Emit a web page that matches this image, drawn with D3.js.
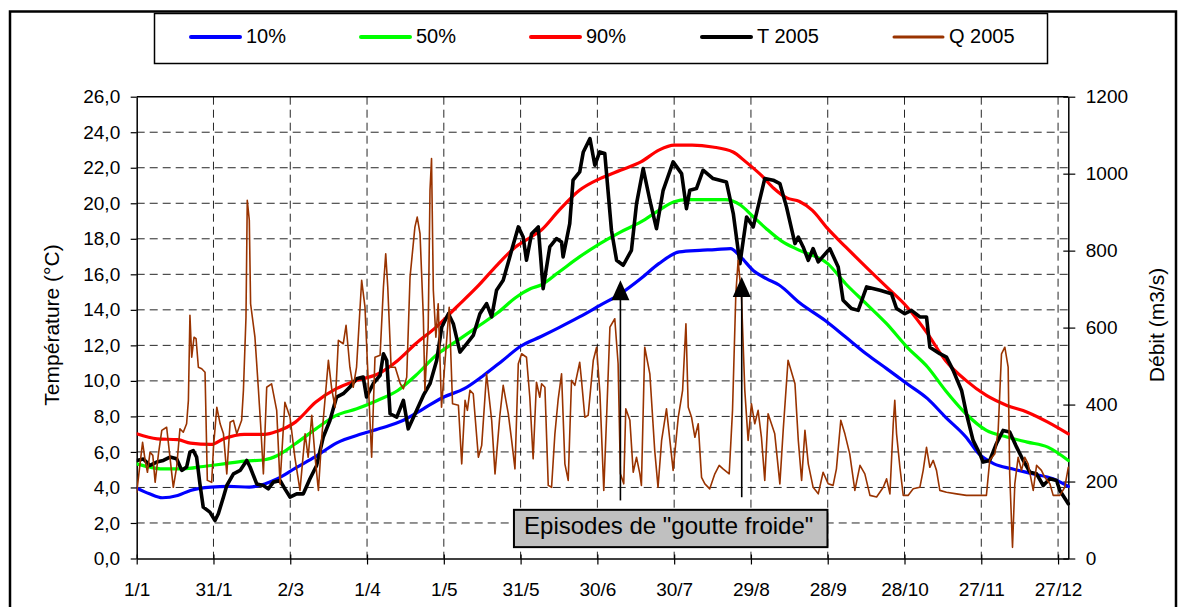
<!DOCTYPE html>
<html>
<head>
<meta charset="utf-8">
<script src="https://cdn.jsdelivr.net/npm/d3@7"></script>
<style>
  html, body { margin: 0; padding: 0; background: #fff; }
  svg { display: block; }
</style>
</head>
<body>
<svg id="chart" width="1181" height="607"></svg>
<script>
// ---------- DATA ----------
const xTickDays = [0, 30, 60, 90, 120, 150, 180, 210, 240, 270, 300, 330, 360];
const xTickLabels = ["1/1", "31/1", "2/3", "1/4", "1/5", "31/5", "30/6", "30/7", "29/8", "28/9", "28/10", "27/11", "27/12"];
const tempTicks = [0, 2, 4, 6, 8, 10, 12, 14, 16, 18, 20, 22, 24, 26];
const flowTicks = [0, 200, 400, 600, 800, 1000, 1200];

const p10Days = [0,5,10,16,21,29,36,44,50,55,62,70,78,88,96,104,112,120,128,135,143,150,158,165,173,181,189,197,204,212,220,226,232,236,241,246,251,259,269,277,285,293,301,309,316,324,329,335,342,350,358,364];
const p10Vals = [3.96,3.64,3.42,3.55,3.83,4.02,4.06,4.02,4.2,4.49,5.09,5.75,6.5,7.02,7.36,7.77,8.43,9.09,9.56,10.25,11.15,11.95,12.5,13.0,13.6,14.25,14.9,15.76,16.6,17.26,17.35,17.39,17.45,16.98,16.2,15.76,15.4,14.4,13.4,12.47,11.53,10.69,9.84,9.0,7.96,6.84,5.9,5.33,5.05,4.77,4.49,4.06];

const p50Days = [0,5,10,18,26,34,42,50,55,62,70,78,86,94,102,109,117,125,133,141,148,154,158,165,173,181,189,197,204,210,215,223,230,236,241,246,252,259,270,277,285,293,301,309,316,324,332,340,348,356,364];
const p50Vals = [5.33,5.15,5.05,5.05,5.18,5.33,5.48,5.56,5.8,6.46,7.3,8.06,8.43,8.9,9.46,10.3,11.44,12.24,13.03,13.83,14.68,15.2,15.4,16.13,16.98,17.73,18.38,18.95,19.6,20.08,20.2,20.2,20.2,19.89,19.23,18.57,17.87,17.35,16.6,15.47,14.35,13.22,11.9,10.78,9.46,8.15,7.21,6.84,6.55,6.27,5.52];

const p90Days = [0,8,16,21,29,34,42,50,55,62,70,78,86,94,102,109,117,125,133,141,148,154,158,165,173,181,189,197,204,210,217,225,233,238,244,249,254,259,264,270,277,285,293,301,309,316,324,332,340,348,356,364];
const p90Vals = [7.02,6.74,6.69,6.5,6.42,6.74,6.99,6.99,7.17,7.68,8.81,9.56,10.03,10.37,11.15,12.09,13.03,14.16,15.29,16.55,17.54,18.1,18.48,19.6,20.73,21.39,21.86,22.33,22.99,23.27,23.27,23.17,22.89,22.33,21.58,20.83,20.3,20.1,19.6,18.57,17.54,16.41,15.29,14.16,12.66,11.15,10.03,9.18,8.62,8.24,7.68,7.02];

const t2005Days = [0,2.6,5.2,7.8,10.4,13,15.6,17.6,19.5,20.8,22.1,23.4,24.7,26,28.6,30.6,31.9,33.9,35.2,37.8,40.4,43,44.3,46.9,49.5,51.4,53.4,56,57.9,59.9,62.5,65.1,67.7,70.3,72.9,75.5,78.1,80.7,83.3,85.9,88.5,89.8,92.4,95.1,96.4,97.7,99,101.6,104.2,106.1,109.4,112,114.6,117.2,119.2,121.8,123.7,126.3,128.9,131.5,134.1,136.7,138.7,140.6,143.2,146.5,149.1,151,152.3,154.3,156.9,158.8,161.4,164,166,166.6,169.2,170.5,173.1,174.5,177.1,179,180.9,182.9,185.5,187.5,190.1,193.3,195.3,197.9,200.5,203.1,205.7,209.6,212.9,214.8,216.1,218.7,221.3,225.2,230.4,233.1,235.7,238.3,240.9,245.4,248.7,251.3,253.9,257.2,258.5,260.4,262.4,264.3,266.3,270.8,274.1,276,279.3,281.9,285.2,290.4,294.9,296.9,300.1,302.7,306,308.6,309.9,313.8,316.4,319,322.3,324.2,326.8,329.4,330.7,333.3,335.9,338.5,341.1,343.8,346.4,349,351.6,354.2,356.8,359.4,360.7,364];
const t2005Vals = [5.52,5.6,5.24,5.43,5.52,5.71,5.62,4.96,5.15,5.99,6.08,5.71,4.2,2.89,2.61,2.14,2.52,3.46,4.11,4.77,4.96,5.52,5.15,4.2,4.11,3.92,4.3,4.39,3.92,3.46,3.64,3.64,4.49,5.24,6.84,7.77,9.09,9.28,9.65,10.12,10.22,9.09,9.84,10.31,11.53,11.15,8.15,7.96,8.9,7.3,8.34,9.18,9.84,11.15,13.03,13.78,13.22,11.62,12.09,12.56,13.78,14.35,13.6,15.1,15.66,17.35,18.67,18.1,16.79,18.29,18.67,15.19,17.54,18.01,17.82,16.98,18.85,21.3,21.77,22.89,23.64,22.14,22.89,22.8,18.48,16.79,16.51,17.35,19.98,21.95,20.17,18.57,20.73,22.33,21.67,19.7,20.73,20.83,21.86,21.39,21.2,19.42,16.6,19.23,18.67,21.39,21.3,21.11,19.79,17.73,18.1,17.54,16.79,17.45,16.7,17.45,16.41,14.54,14.07,13.97,15.29,15.1,14.91,14.07,13.78,13.97,13.6,13.6,11.9,11.53,11.34,10.59,9.46,8.15,6.65,5.9,5.43,5.52,6.46,7.21,7.12,6.27,5.52,4.86,4.77,4.11,4.49,4.39,3.83,3.08];

const q2005Days = [0,1.3,2.3,3.3,4.2,5.2,6.3,7.2,8.5,9.8,11.7,13,14.3,15.6,16.9,18.2,19.5,20.2,20.8,21.5,22.4,23.2,24.1,25.4,26.7,27.6,29.3,30,31.3,32.6,33.9,35.2,36.5,37.8,39.1,41,41.7,42.7,43.2,44,44.5,46.2,47.5,48.4,49.5,50.8,52.7,54.7,56,57.9,59.9,61.8,63.8,65.8,67,68.4,69.7,71,72.3,74.9,76.2,77.5,78.8,80.7,81.8,83.3,84.6,85.9,87.9,89.2,90.5,91.8,93.1,95.1,96.4,97.3,98.1,99.4,101,103,104.2,105.5,106.8,108.7,109.6,110.7,112,112.6,113.9,114.6,115.2,115.9,116.9,117.8,119.1,120.4,122.1,123.4,125.7,127,128.3,129.2,130.2,131.5,133.5,134.8,136.7,138.7,140,141.9,143.2,145.2,146.5,147.8,149.1,150.4,152.3,153.6,154.9,156.2,157.5,158.2,159.5,160.8,162.1,163.4,164.7,166,167.3,168.6,169.9,171.2,173.1,173.8,175.1,176.4,178.4,179.7,181,182.5,183.6,184.9,186.8,188.1,189,190.3,191.1,192.7,194,195.3,196.6,197.2,198.5,200.5,202.4,203.7,205.1,207,209.6,211.6,213.3,214.6,215.5,216.8,218.1,219.4,220.7,222,223.9,225.9,227.6,229.1,231.5,232.8,234.1,235,236.3,237.6,238.9,240.2,241.5,242.8,244.1,245.4,246.7,248,249.3,251.3,252.6,254.5,257.2,258.5,259.8,261.1,262.4,264.3,266.3,268.2,270.2,272.1,273.4,275.1,276.7,278.6,280.6,282.6,284.5,286.5,289.1,291.7,293,294.3,295.6,296.2,296.9,298.2,299.5,301.4,303.4,306,307.3,308.6,309.9,311.2,312.5,313.8,316.4,320.3,324.2,329.4,332,333.3,335.3,336.6,337.9,339.2,340.5,341.1,342.2,343.1,344.4,345.7,347,348.3,350.3,351.6,353.5,354.8,356.8,358.1,360.7,362.6,364];
const q2005Vals = [172,246,302,255,224,276,268,198,272,333,341,263,185,237,337,328,350,411,632,523,575,571,497,493,484,203,198,289,393,350,324,220,354,359,324,359,437,627,931,879,662,575,445,350,220,445,454,385,194,406,367,263,177,324,263,372,263,177,315,515,441,393,567,558,606,497,445,497,723,653,454,263,523,528,705,792,705,497,497,454,441,471,731,861,887,844,627,437,601,957,1039,697,575,662,393,506,653,402,398,246,411,385,437,428,263,294,480,359,220,372,450,376,307,233,506,532,523,419,259,458,419,454,445,190,185,324,415,480,246,203,463,450,510,463,367,372,515,549,428,177,367,601,623,506,220,194,389,359,224,263,220,190,549,480,281,185,307,389,229,367,437,610,393,367,315,350,211,194,181,220,242,233,220,385,688,775,680,437,307,402,350,385,315,203,376,350,324,194,333,515,454,307,203,333,246,185,168,224,194,190,233,359,324,272,177,242,220,164,160,185,207,168,350,411,324,237,164,164,181,185,229,289,237,255,229,177,172,168,164,164,164,255,272,333,532,549,497,220,29,194,263,229,263,246,177,242,229,211,194,164,164,185,237];

// annotation: "goutte froide" episodes (day, arrow tip temperature, arrow foot temperature)
const episodeDays = [189, 236.4];
const episodeTipT = [15.66, 15.85];
const episodeFootT = [3.27, 3.45];
const episodeLabel = 'Episodes de "goutte froide"';

const legendLabels = ["10%", "50%", "90%", "T 2005", "Q 2005"];
const legendColors = ["#0000ff", "#00ff00", "#ff0000", "#000000", "#993300"];

// ---------- LAYOUT ----------
const FONT = "'Liberation Sans', Arial, Helvetica, sans-serif";
const L = 136.7, R = 1068.3, T = 96.7, B = 558.5;

const svg = d3.select("#chart");
const x = d3.scaleLinear().domain([0, 364]).range([L, R]);
const yT = d3.scaleLinear().domain([0, 26]).range([B, T]);
const yQ = d3.scaleLinear().domain([0, 1200]).range([B, T]);

// outer frame
svg.append("rect").attr("x", 10).attr("y", 11.5).attr("width", 1166).attr("height", 620)
  .attr("fill", "#fff").attr("stroke", "#000").attr("stroke-width", 2.5);

// legend box
svg.append("rect").attr("x", 154.5).attr("y", 13.5).attr("width", 893).attr("height", 50)
  .attr("fill", "#fff").attr("stroke", "#000").attr("stroke-width", 1.5);
const legX = [191, 361, 531, 702, 894];
legendLabels.forEach((lab, i) => {
  svg.append("line").attr("x1", legX[i]).attr("x2", legX[i] + 49).attr("y1", 37).attr("y2", 37)
    .attr("stroke", legendColors[i]).attr("stroke-width", i === 4 ? 3 : 4).attr("stroke-linecap", "round");
  svg.append("text").attr("x", legX[i] + 55).attr("y", 43).text(lab)
    .attr("font-family", FONT).attr("font-size", 20).attr("fill", "#000");
});

// gridlines
const grid = svg.append("g").attr("stroke", "#000").attr("stroke-width", 1).attr("stroke-dasharray", "8,5").attr("stroke-opacity", 0.85);
tempTicks.filter(v => v > 0 && v < 26).forEach(v => {
  grid.append("line").attr("x1", L).attr("x2", R).attr("y1", yT(v)).attr("y2", yT(v));
});
xTickDays.filter(d => d > 0).forEach(d => {
  grid.append("line").attr("x1", x(d)).attr("x2", x(d)).attr("y1", T).attr("y2", B);
});

// top border
svg.append("line").attr("x1", L).attr("x2", R).attr("y1", T).attr("y2", T).attr("stroke", "#000").attr("stroke-width", 1.5);

// axes
const fmt = v => v.toFixed(1).replace(".", ",");
const axL = svg.append("g").attr("transform", `translate(${L},0)`)
  .call(d3.axisLeft(yT).tickValues(tempTicks).tickFormat(fmt).tickSize(6).tickSizeOuter(0).tickPadding(10.5));
const axR = svg.append("g").attr("transform", `translate(${R},0)`)
  .call(d3.axisRight(yQ).tickValues(flowTicks).tickFormat(d3.format("d")).tickSize(7).tickSizeOuter(0).tickPadding(10.5));
axR.selectAll(".tick line").attr("x1", -5);
const axB = svg.append("g").attr("transform", `translate(0,${B})`)
  .call(d3.axisBottom(x).tickValues(xTickDays).tickFormat((d, i) => xTickLabels[i]).tickSize(6).tickSizeOuter(0).tickPadding(18.5));
axB.selectAll(".tick line").attr("y1", -4);
[axL, axR, axB].forEach(g => {
  g.attr("font-family", FONT).attr("font-size", 19);
  g.selectAll("path").attr("stroke", "#000").attr("stroke-width", 1.5);
  g.selectAll(".tick line").attr("stroke", "#000").attr("stroke-width", 1.2);
  g.selectAll("text").attr("fill", "#000");
});

// axis titles
svg.append("text").attr("transform", "translate(59,325) rotate(-90)").attr("text-anchor", "middle")
  .attr("font-family", FONT).attr("font-size", 21).text("Température (°C)");
svg.append("text").attr("transform", "translate(1164,325) rotate(-90)").attr("text-anchor", "middle")
  .attr("font-family", FONT).attr("font-size", 21).text("Débit (m3/s)");

// series
svg.append("clipPath").attr("id", "plotclip").append("rect")
  .attr("x", L).attr("y", T - 5).attr("width", R - L + 2).attr("height", B - T + 5);
const plot = svg.append("g").attr("clip-path", "url(#plotclip)");
function drawSeries(days, vals, yScale, color, width, curve) {
  const line = d3.line().x(d => x(d[0])).y(d => yScale(d[1])).curve(curve);
  plot.append("path").datum(days.map((d, i) => [d, vals[i]]))
    .attr("d", line).attr("fill", "none").attr("stroke", color).attr("stroke-width", width)
    .attr("stroke-linejoin", "round").attr("stroke-linecap", "round");
}
drawSeries(p10Days, p10Vals, yT, legendColors[0], 3.2, d3.curveMonotoneX);
drawSeries(p50Days, p50Vals, yT, legendColors[1], 3.2, d3.curveMonotoneX);
drawSeries(p90Days, p90Vals, yT, legendColors[2], 3.2, d3.curveMonotoneX);
drawSeries(t2005Days, t2005Vals, yT, legendColors[3], 3.6, d3.curveLinear);
drawSeries(q2005Days, q2005Vals, yQ, legendColors[4], 1.6, d3.curveLinear);

// arrows
episodeDays.forEach((d, i) => {
  const ax = x(d), tip = yT(episodeTipT[i]), foot = yT(episodeFootT[i]);
  svg.append("line").attr("x1", ax).attr("x2", ax).attr("y1", foot).attr("y2", tip + 15)
    .attr("stroke", "#000").attr("stroke-width", 1.6);
  svg.append("path").attr("d", `M${ax},${tip} L${ax - 9},${tip + 20} L${ax + 9},${tip + 20} Z`).attr("fill", "#000");
});

// annotation box
const boxX0 = x(147.4), boxX1 = x(269.9), boxY0 = yT(2.74), boxY1 = yT(0.64);
svg.append("rect").attr("x", boxX0).attr("y", boxY0).attr("width", boxX1 - boxX0).attr("height", boxY1 - boxY0)
  .attr("fill", "#c0c0c0").attr("stroke", "#000").attr("stroke-width", 2);
svg.append("text").attr("x", (boxX0 + boxX1) / 2 - 2).attr("y", boxY0 + 24.5).attr("text-anchor", "middle")
  .attr("font-family", FONT).attr("font-size", 24).attr("fill", "#000").text(episodeLabel);
</script>
</body>
</html>
